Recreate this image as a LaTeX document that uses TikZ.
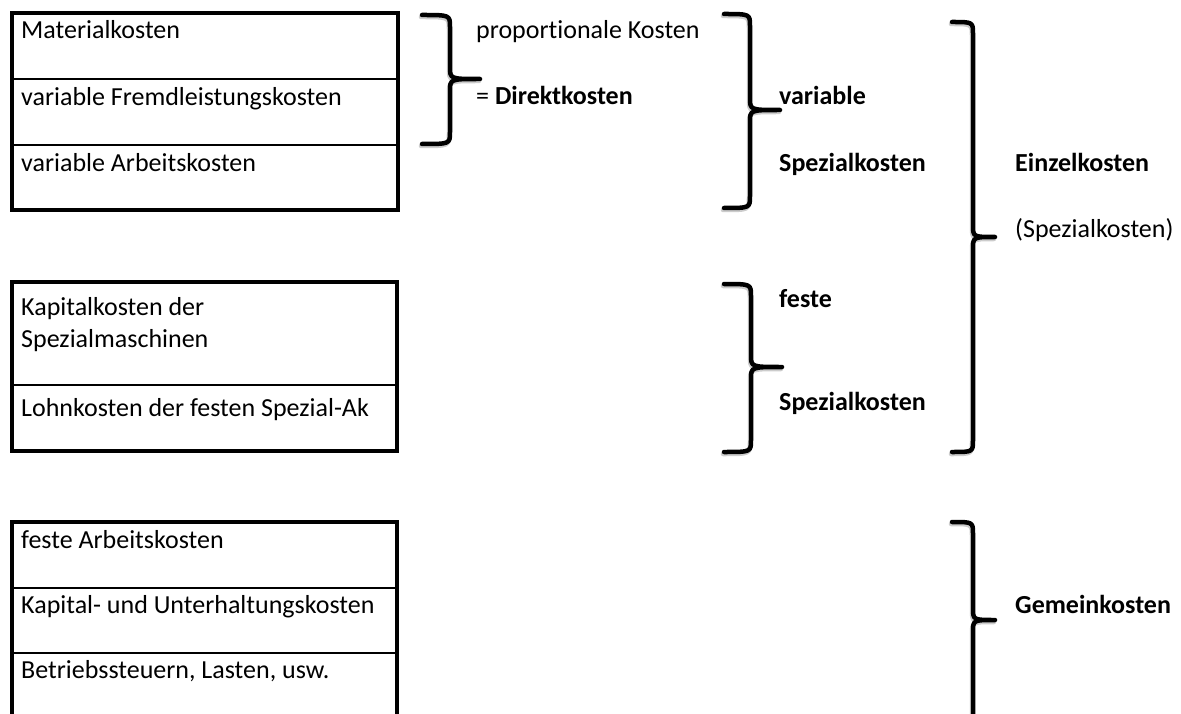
\documentclass[tikz,border=0pt]{standalone}
\usepackage{fontspec}
\setmainfont{Carlito}[Ligatures=NoCommon]
\newcommand\drawbrace[6]{% #1 left x, #2 spine x, #3 tip x, #4 top y, #5 middle y, #6 bottom y
  \draw[braceshadow] (#1-1,#4+2) .. controls (#2-1,#4+2) .. (#2-1,#4+14) -- (#2-1,#5-10) .. controls (#2-1,#5+2) .. (#3-1,#5+2) .. controls (#2-1,#5+2) .. (#2-1,#5+14) -- (#2-1,#6-10) .. controls (#2-1,#6+2) .. (#1-1,#6+2);
  \draw[bracestroke] (#1,#4) .. controls (#2,#4) .. (#2,#4+12) -- (#2,#5-12) .. controls (#2,#5) .. (#3,#5) .. controls (#2,#5) .. (#2,#5+12) -- (#2,#6-12) .. controls (#2,#6) .. (#1,#6);
}
\begin{document}
\begin{tikzpicture}[x=1pt,y=-1pt,
  lbl/.style={anchor=base west, inner sep=0pt, font=\fontsize{26}{30}\selectfont},
  blbl/.style={anchor=base west, inner sep=0pt, font=\fontsize{26}{30}\selectfont\bfseries},
  outerbox/.style={line width=4pt},
  divider/.style={line width=2pt},
  bracestroke/.style={line width=4.5pt, line cap=round, line join=round},
  braceshadow/.style={line width=4.5pt, draw=black!20, line cap=round, line join=round}]
\clip (0,0) rectangle (1181,714);
\fill[white] (0,0) rectangle (1181,714);

% box 1
\draw[outerbox] (12,13) rectangle (398,210);
\draw[divider] (12,79) -- (398,79);
\draw[divider] (12,145) -- (398,145);
\node[lbl] (m1) at (21,39) {Materialkosten};
\node[lbl] (m2) at (21,106) {variable Fremdleistungskosten};
\node[lbl] (m3) at (21,172) {variable Arbeitskosten};

% box 2
\draw[outerbox] (12,282) rectangle (397,451);
\draw[divider] (12,385) -- (397,385);
\node[lbl] (k1) at (21,316) {Kapitalkosten der};
\node[lbl] (k2) at (21,347) {Spezialmaschinen};
\node[lbl] (k3) at (21,416) {Lohnkosten der festen Spezial-Ak};

% box 3
\draw[outerbox] (12,740) -- (12,522) -- (397,522) -- (397,740);
\draw[divider] (12,588) -- (397,588);
\draw[divider] (12,653) -- (397,653);
\node[lbl] (g1) at (21,548) {feste Arbeitskosten};
\node[lbl] (g2) at (21,613) {Kapital- und Unterhaltungskosten};
\node[lbl] (g3) at (21,678) {Betriebssteuern, Lasten, usw.};

% braces
\drawbrace{422}{450}{480}{15}{79}{144}
\drawbrace{724}{750}{780}{14}{110}{208}
\drawbrace{952}{973}{995}{22}{237}{452}
\drawbrace{724}{751}{782}{284}{367}{452}
\drawbrace{952}{973}{995}{522}{620}{800}

% labels
\node[lbl] (pk) at (476,39) {proportionale Kosten};
\node[lbl] (dk) at (476,105) {= \textbf{Direktkosten}};
\node[blbl] (vs1) at (779,105) {variable};
\node[blbl] (vs2) at (779,172) {Spezialkosten};
\node[blbl] (fs1) at (779,307) {feste};
\node[blbl] (fs2) at (779,410) {Spezialkosten};
\node[blbl] (ek) at (1015,172) {Einzelkosten};
\node[lbl] (sk) at (1015,238) {(Spezialkosten)};
\node[blbl] (gk) at (1015,613) {Gemeinkosten};
\end{tikzpicture}
\end{document}
